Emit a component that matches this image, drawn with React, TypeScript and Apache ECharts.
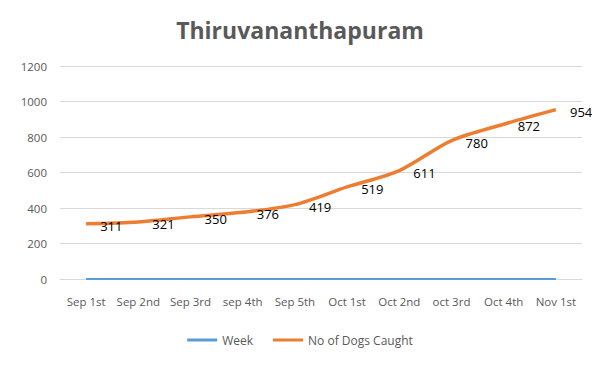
import React, { useEffect, useRef } from "react";
import * as echarts from "echarts";

const categories = ["Sep 1st", "Sep 2nd", "Sep 3rd", "sep 4th", "Sep 5th", "Oct 1st", "Oct 2nd", "oct 3rd", "Oct 4th", "Nov 1st"];
const weekValues = [0, 0, 0, 0, 0, 0, 0, 0, 0, 0];
const dogsCaught = [311, 321, 350, 376, 419, 519, 611, 780, 872, 954];
const yTicks = { min: 0, max: 1200, interval: 200 };

export default function App() {
  const ref = useRef<HTMLDivElement>(null);
  useEffect(() => {
    if (!ref.current) return;
    const chart = echarts.init(ref.current, undefined, { renderer: "svg" });
    const font = "'Open Sans', 'Noto Sans', sans-serif";
    chart.setOption({
      animation: false,
      backgroundColor: "#ffffff",
      graphic: [
        {
          type: "rect",
          shape: { x: 1.5, y: 1.5, width: 596, height: 361 },
          style: { fill: "transparent", stroke: "#d9d9d9", lineWidth: 2 },
          silent: true,
          z: 100,
        },
      ],
      title: {
        text: "Thiruvananthapuram",
        left: "center",
        top: 13,
        textStyle: { fontFamily: font, fontSize: 23, fontWeight: "bold", color: "#595959" },
      },
      grid: { left: 60, right: 18, top: 66, bottom: 86, containLabel: false },
      legend: {
        bottom: 14,
        left: "center",
        itemWidth: 30,
        itemHeight: 3,
        itemGap: 20,
        icon: "rect",
        textStyle: { fontFamily: font, fontSize: 12, color: "#595959" },
        data: ["Week", "No of Dogs Caught"],
      },
      xAxis: {
        type: "category",
        data: categories,
        boundaryGap: true,
        axisLine: { show: true, lineStyle: { color: "#d9d9d9" } },
        axisTick: { show: false },
        axisLabel: { fontFamily: font, fontSize: 11.5, color: "#595959", margin: 16, interval: 0 },
      },
      yAxis: {
        type: "value",
        min: yTicks.min,
        max: yTicks.max,
        interval: yTicks.interval,
        axisLine: { show: false },
        axisTick: { show: false },
        splitLine: { lineStyle: { color: "#d9d9d9" } },
        axisLabel: { fontFamily: font, fontSize: 11.5, color: "#595959", margin: 13, formatter: (v: number) => String(v) },
      },
      series: [
        {
          name: "Week",
          type: "line",
          data: weekValues,
          showSymbol: false,
          symbol: "none",
          lineStyle: { color: "#5B9BD5", width: 2 },
          itemStyle: { color: "#5B9BD5" },
        },
        {
          name: "No of Dogs Caught",
          type: "line",
          data: dogsCaught,
          smooth: 0.3,
          symbol: "circle",
          symbolSize: 0.1,
          showSymbol: true,
          lineStyle: { color: "#ED7D31", width: 3.5 },
          itemStyle: { color: "#ED7D31" },
          label: {
            show: true,
            position: "right",
            distance: 14,
            offset: [0, 2],
            fontFamily: font,
            fontSize: 13,
            color: "#000000",
          },
        },
      ],
    });
    return () => chart.dispose();
  }, []);
  return (
    <div style={{ width: 600, height: 365, margin: -8, position: "relative" }}>
      <div ref={ref} style={{ position: "absolute", left: 0, top: 0, width: 600, height: 365 }} />
    </div>
  );
}
